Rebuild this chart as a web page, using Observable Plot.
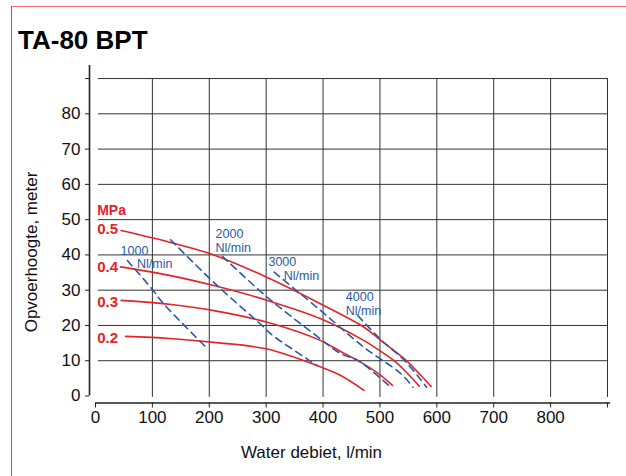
<!DOCTYPE html>
<html><head><meta charset="utf-8">
<script src="https://cdn.jsdelivr.net/npm/d3@7"></script>
<script src="https://cdn.jsdelivr.net/npm/@observablehq/plot@0.6"></script>
<style>
body{margin:0;background:#fff;font-family:"Liberation Sans",Arial,sans-serif;}
#wrap{position:relative;width:626px;height:476px;overflow:hidden;background:#fff;}
#bt{position:absolute;left:11px;top:6px;width:615px;height:1px;background:#f27070;}
#bl{position:absolute;left:11px;top:6px;width:1px;height:470px;background:#e8383d;}
#title{position:absolute;left:18px;top:25px;font-weight:bold;font-size:26px;line-height:30px;color:#000;}
#ylab{position:absolute;left:32px;top:252px;transform:translate(-50%,-50%) rotate(-90deg);white-space:nowrap;font-size:17px;color:#111;}
#chart{position:absolute;left:0;top:60px;}
</style></head><body>
<div id="wrap"><div id="bt"></div><div id="bl"></div><div id="title">TA-80 BPT</div><div id="chart"></div><div id="ylab"></div></div>
<script>
// ---- axis ticks ----
const xTicks = [0, 100, 200, 300, 400, 500, 600, 700, 800, 900];
const xGrid = [100, 200, 300, 400, 500, 600, 700, 800, 900];
const yTicks = [0, 10, 20, 30, 40, 50, 60, 70, 80, 90];
const yGrid = [10, 20, 30, 40, 50, 60, 70, 80, 90];

// ---- pressure curves (MPa): water flow l/min vs head m ----
const pressureNames = ["0.5", "0.4", "0.3", "0.2"];
const q05 = [45, 130, 208, 302, 396, 472, 502, 546, 572, 590];
const h05 = [46.9, 43.6, 40.0, 33.6, 26.1, 19.5, 15.7, 10.1, 5.8, 2.7];
const q04 = [44, 130, 208, 302, 396, 472, 502, 525, 549, 569];
const h04 = [36.6, 34.2, 31.3, 27.1, 21.9, 15.7, 12.6, 10.0, 6.3, 2.8];
const q03 = [45, 130, 208, 302, 396, 431, 466, 502, 522];
const h03 = [27.1, 26.0, 24.2, 20.9, 15.7, 12.6, 9.6, 5.8, 3.0];
const q02 = [53, 130, 208, 302, 396, 431, 472];
const h02 = [16.9, 16.3, 15.2, 13.3, 8.2, 5.8, 1.6];

// ---- air consumption lines (Nl/min) ----
const airNames = ["1000", "", "2000", "3000", "4000"];
const qA1000 = [56, 97, 120, 197];
const hA1000 = [38.4, 30.8, 26.1, 13.4];
const qAx = [132, 208, 296, 308, 390];
const hAx = [44.3, 32.2, 19.5, 17.6, 8.6];
const qA2000 = [223, 302, 384, 431, 461, 521];
const hA2000 = [39.6, 28.0, 17.6, 12.0, 10.1, 2.2];
const qA3000 = [314, 396, 472, 537, 558];
const hA3000 = [35.1, 24.2, 13.8, 6.3, 2.5];
const qA4000 = [461, 502, 543, 582];
const hA4000 = [22.8, 15.9, 10.1, 2.5];

// ---- labels ----
const mpaTitle = "MPa";
const mpaLabelX = [3, 3, 3, 3];
const mpaLabelY = [47.3, 36.4, 26.5, 16.5];
const mpaTitleY = 52.5;
const airLabelNum = ["1000", "2000", "3000", "4000"];
const airNumX = [44, 211, 304, 440];
const airNumY = [41.0, 45.9, 38.1, 28.0];
const airUnitX = [73, 211, 331, 440];
const airUnitY = [37.3, 41.9, 34.0, 24.1];
const airUnit = "Nl/min";
const xLabel = "Water debiet, l/min";
const yLabel = "Opvoerhoogte, meter";

const RED = "#e52329";
const BLUE = "#2a5aa6";
const GRID = "#333";

document.getElementById("ylab").textContent = yLabel;

const toRows = (qs, hs, name) => qs.map((q, i) => ({q, h: hs[i], name}));
const pressureRows = [
  ...toRows(q05, h05, "0.5"), ...toRows(q04, h04, "0.4"),
  ...toRows(q03, h03, "0.3"), ...toRows(q02, h02, "0.2")
];
const airRows = [
  ...toRows(qA1000, hA1000, "1000"), ...toRows(qAx, hAx, "x"),
  ...toRows(qA2000, hA2000, "2000"), ...toRows(qA3000, hA3000, "3000"),
  ...toRows(qA4000, hA4000, "4000")
];
const mpaRows = pressureNames.map((t, i) => ({t, x: mpaLabelX[i], y: mpaLabelY[i]}));
const numRows = airLabelNum.map((t, i) => ({t, x: airNumX[i], y: airNumY[i]}));
const unitRows = airLabelNum.map((t, i) => ({t: airUnit, x: airUnitX[i], y: airUnitY[i]}));

const chart = Plot.plot({
  width: 626,
  height: 416,
  marginTop: 5,
  marginBottom: 80.5,
  marginLeft: 95,
  marginRight: 19,
  style: {fontFamily: "'Liberation Sans', Arial, sans-serif", fontSize: "17px", background: "transparent", overflow: "visible"},
  x: {domain: [0, 900], axis: null},
  y: {domain: [0, 93.7], axis: null},
  marks: [
    Plot.ruleY(yGrid, {stroke: GRID, strokeWidth: 1, insetLeft: 3}),
    Plot.ruleX(xGrid, {y1: -0.4, y2: 90, stroke: GRID, strokeWidth: 1}),
    // y axis
    Plot.ruleX([0], {dx: -6, stroke: "#222", strokeWidth: 1.6}),
    Plot.axisY({ticks: yTicks, tickFormat: d => d === 90 ? "" : d, tickSize: 4, tickPadding: 5, dx: -6, fontSize: 17, label: null, stroke: "#222", fill: "#111"}),
    // x axis
    Plot.ruleY([0], {dy: 7, stroke: "#222", strokeWidth: 1.6, insetRight: -3}),
    Plot.axisX({ticks: xTicks, tickFormat: d => d === 900 ? "" : d, tickSize: 5, tickPadding: 3, dy: 7, fontSize: 17, label: null, stroke: "#222", fill: "#111"}),
    // curves
    Plot.line(pressureRows, {x: "q", y: "h", z: "name", stroke: RED, strokeWidth: 1.6, curve: "catmull-rom"}),
    Plot.line(airRows, {x: "q", y: "h", z: "name", stroke: BLUE, strokeWidth: 1.6, strokeDasharray: "7,5", curve: "catmull-rom"}),
    // labels
    Plot.text([mpaTitle], {x: 3, y: mpaTitleY, text: d => d, textAnchor: "start", fill: RED, fontWeight: "bold", fontSize: 14}),
    Plot.text(mpaRows, {x: "x", y: "y", text: "t", textAnchor: "start", fill: RED, fontWeight: "bold", fontSize: 15}),
    Plot.text(numRows, {x: "x", y: "y", text: "t", textAnchor: "start", fill: BLUE, fontSize: 12.5}),
    Plot.text(unitRows, {x: "x", y: "y", text: "t", textAnchor: "start", fill: BLUE, fontSize: 12.5}),
    Plot.text([xLabel], {frameAnchor: "bottom", text: d => d, dx: -40, dy: 61.5, fontSize: 17, fill: "#111"})
  ]
});
document.getElementById("chart").appendChild(chart);
</script>
</body></html>
